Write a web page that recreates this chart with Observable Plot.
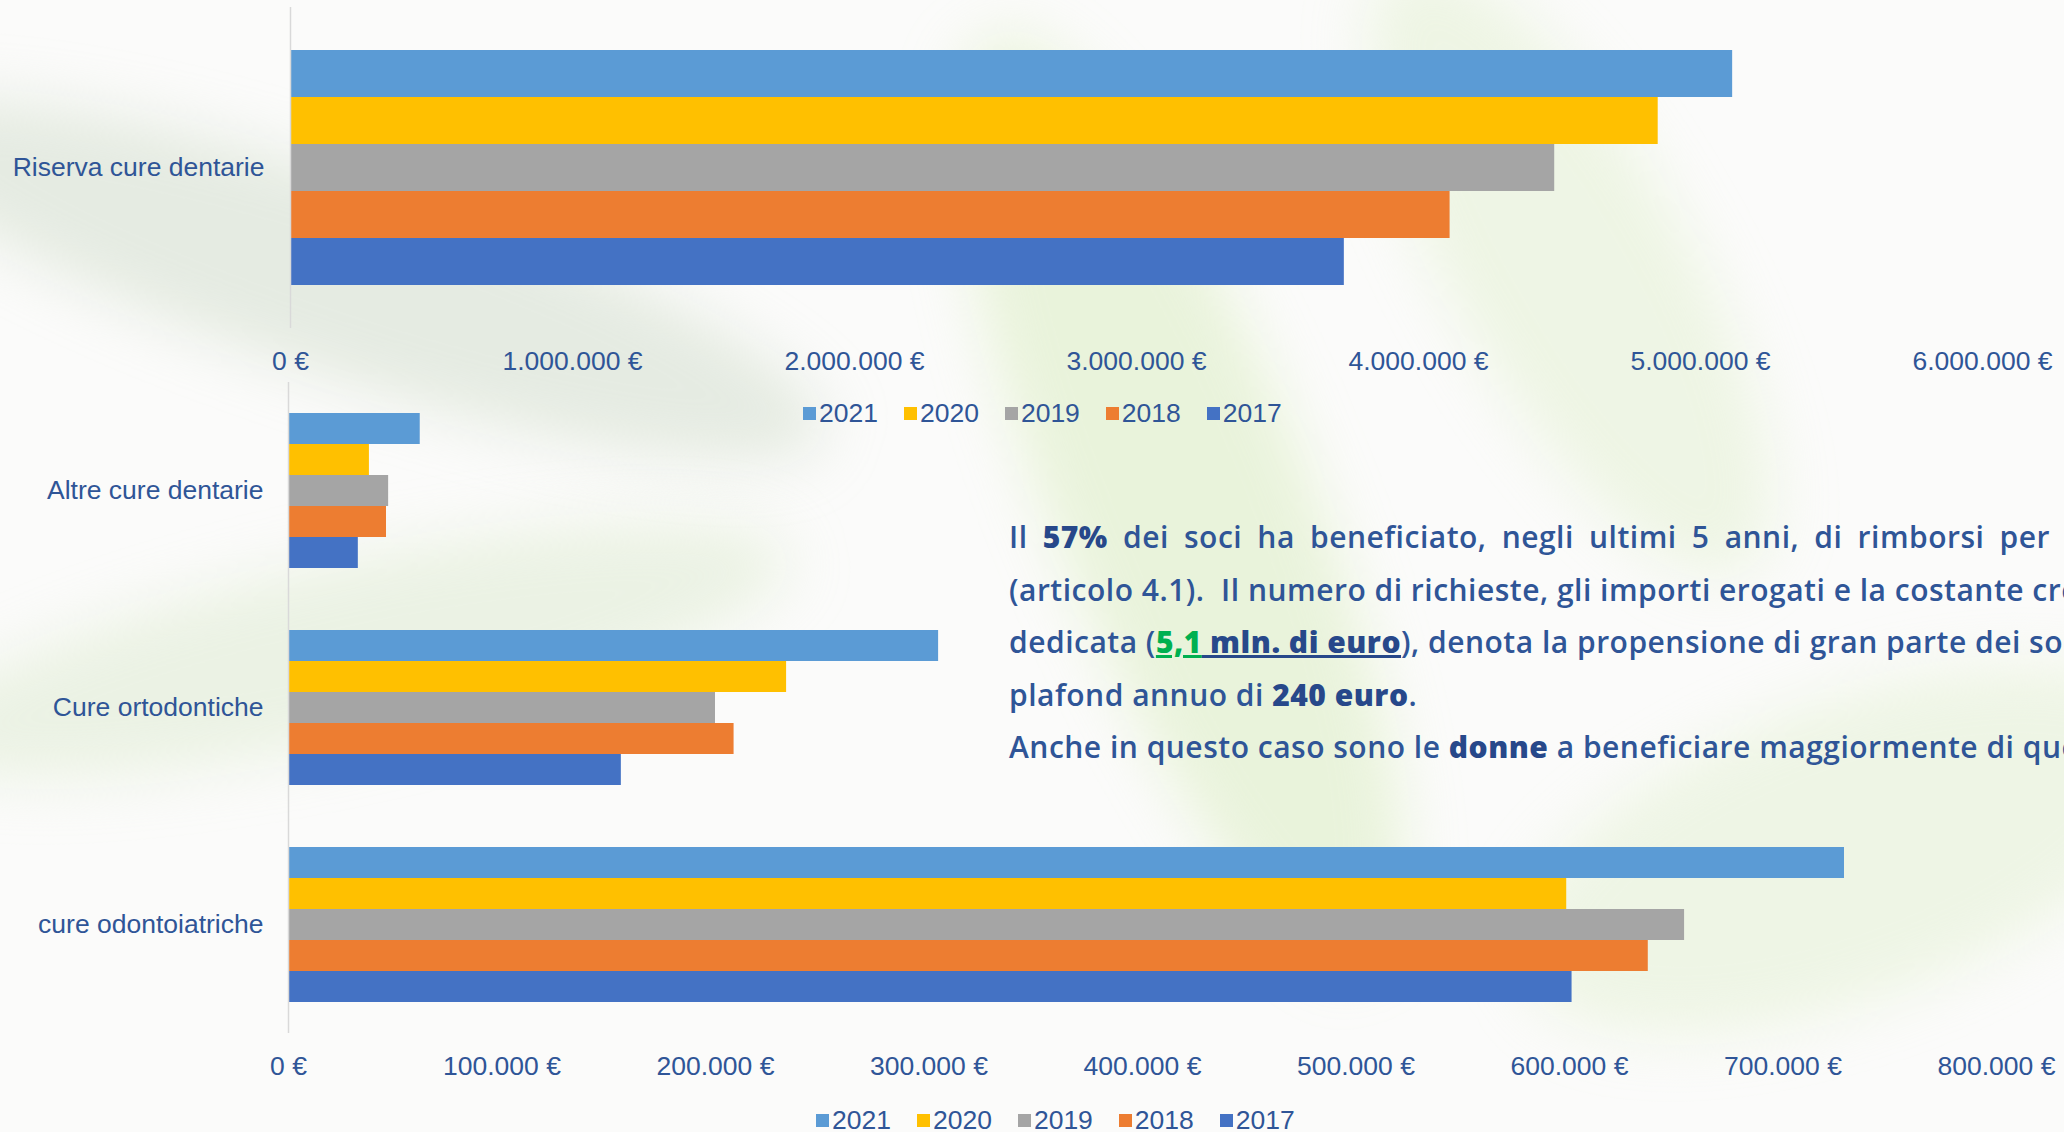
<!DOCTYPE html>
<html><head><meta charset="utf-8">
<script src="https://cdn.jsdelivr.net/npm/d3@7"></script>
<script src="https://cdn.jsdelivr.net/npm/@observablehq/plot@0.6"></script>
<style>
html,body{margin:0;padding:0;}
body{width:2064px;height:1132px;overflow:hidden;position:relative;background:#fbfbfa;font-family:"Liberation Sans",Arial,sans-serif;}
.bg{position:absolute;border-radius:50%;filter:blur(30px);}
#top,#bottom{position:absolute;left:0;}
#top{top:0}
#bottom{top:375px}
.legend{position:absolute;display:flex;align-items:center;font-size:26.5px;color:#2F5597;font-family:"Liberation Sans",Arial,sans-serif;}
.legend .item{display:flex;align-items:center;margin-right:26px}
.legend .sw{width:13px;height:13px;margin-right:3px}
#text{position:absolute;left:1009px;top:511px;font-family:"Open Sans",sans-serif;font-weight:600;font-size:30px;letter-spacing:0.5px;line-height:52.5px;color:#2F5597;white-space:nowrap}
#text b{font-weight:800;color:#27488a}
#text .l1{width:1041px;text-align:justify;text-align-last:justify}
#text .g{color:#00B050;text-decoration:underline;text-decoration-color:#00B050}
#text .u{text-decoration:underline}
</style>
</head><body>
<div class="bg" style="left:-150px;top:180px;width:1000px;height:200px;transform:rotate(18deg);background:rgba(190,205,180,0.35)"></div>
<div class="bg" style="left:-100px;top:560px;width:900px;height:180px;transform:rotate(-12deg);background:rgba(205,225,185,0.35)"></div>
<div class="bg" style="left:1050px;top:0px;width:260px;height:1000px;transform:rotate(-22deg);background:rgba(200,228,160,0.35)"></div>
<div class="bg" style="left:1450px;top:-80px;width:240px;height:700px;transform:rotate(-30deg);background:rgba(210,232,180,0.3)"></div>
<div class="bg" style="left:1500px;top:700px;width:700px;height:300px;transform:rotate(-20deg);background:rgba(215,235,190,0.35)"></div>
<div id="top"></div>
<div id="bottom"></div>
<div class="legend" id="legTop" style="left:803px;top:398px"></div>
<div class="legend" id="legBottom" style="left:816px;top:1105px"></div>
<div id="text">
<div class="l1">Il <b>57%</b> dei soci ha beneficiato, negli ultimi 5 anni, di rimborsi per</div>
<div>(articolo 4.1).&nbsp; Il numero di richieste, gli importi erogati e la costante crescita della riserva</div>
<div>dedicata (<b class="g">5,1</b><b class="u"> mln. di euro</b>), denota la propensione di gran parte dei soci ad utilizzare il</div>
<div>plafond annuo di <b>240 euro</b>.</div>
<div>Anche in questo caso sono le <b>donne</b> a beneficiare maggiormente di questa prestazione.</div>
</div>
<script>
const years = ["2021", "2020", "2019", "2018", "2017"];
const colors = ["#5B9BD5", "#FFC000", "#A5A5A5", "#ED7D31", "#4472C4"];

const topCategories = ["Riserva cure dentarie"];
const riservaValues = [5114000, 4850000, 4483000, 4112000, 3737000];
const topTicks = [0, 1000000, 2000000, 3000000, 4000000, 5000000, 6000000];

const bottomCategories = ["Altre cure dentarie", "Cure ortodontiche", "cure odontoiatriche"];
const altreValues = [61700, 37900, 46900, 45900, 32700];
const ortodonticheValues = [304500, 233300, 200000, 208700, 155900];
const odontoiatricheValues = [728800, 598700, 653900, 636900, 601200];
const bottomTicks = [0, 100000, 200000, 300000, 400000, 500000, 600000, 700000, 800000];

const itFmt = d3.formatLocale({decimal: ",", thousands: ".", grouping: [3], currency: ["", "€"]}).format(",.0f");
const euro = d => itFmt(d) + " €";

const topRows = years.map((y, i) => ({category: topCategories[0], year: y, value: riservaValues[i]}));
const bottomSeries = [altreValues, ortodonticheValues, odontoiatricheValues];
const bottomRows = bottomCategories.flatMap((c, j) => years.map((y, i) => ({category: c, year: y, value: bottomSeries[j][i]})));

const textColor = "#2F5597";
function chart(rows, cats, domainMax, ticks, opts) {
  return Plot.plot({
    width: 2064,
    height: opts.height,
    marginTop: 7,
    marginBottom: opts.height - 7 - opts.plotH,
    marginLeft: opts.left,
    marginRight: opts.right,
    style: {background: "transparent", fontFamily: "'Liberation Sans', Arial, sans-serif", fontSize: "26.5px", color: textColor, overflow: "visible"},
    x: {domain: [0, domainMax], ticks: ticks, tickFormat: euro, tickSize: 0, tickPadding: 23, label: null, axis: "bottom"},
    y: {domain: years, axis: null, paddingInner: 0, paddingOuter: 0.9},
    fy: {domain: cats, padding: 0, axis: "left", tickSize: 0, tickPadding: opts.pad, label: null},
    color: {domain: years, range: colors},
    marks: [
      Plot.barX(rows, {x: "value", y: "year", fy: "category", fill: "year"}),
      Plot.ruleX([0], {stroke: "#d9d9d9", strokeWidth: 1.5})
    ]
  });
}

document.getElementById("top").append(chart(topRows, topCategories, 6000000, topTicks, {height: 390, plotH: 321, left: 290, right: 82, pad: 26}));
document.getElementById("bottom").append(chart(bottomRows, bottomCategories, 800000, bottomTicks, {height: 720, plotH: 651, left: 288, right: 68, pad: 25}));

function legend(el) {
  years.forEach((y, i) => {
    const it = document.createElement("div");
    it.className = "item";
    it.innerHTML = `<span class="sw" style="background:${colors[i]}"></span><span>${y}</span>`;
    el.append(it);
  });
}
legend(document.getElementById("legTop"));
legend(document.getElementById("legBottom"));
</script>
</body></html>
